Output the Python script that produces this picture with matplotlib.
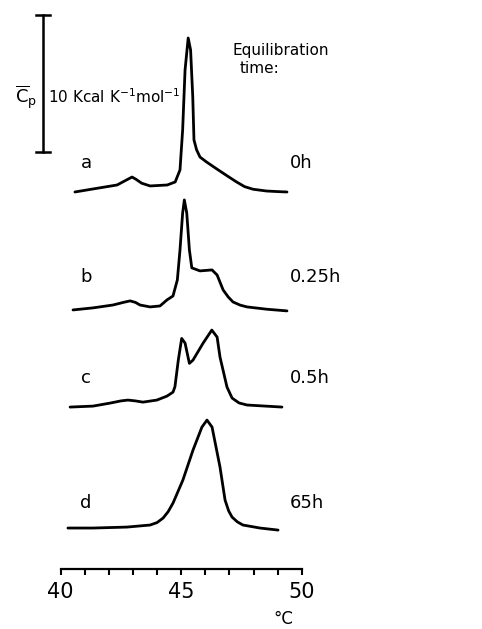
import matplotlib
matplotlib.use("Agg")
import matplotlib.pyplot as plt

# temperatures (deg C) and excess heat capacity (kcal K^-1 mol^-1)
temp_a = [40.59, 41.34, 42.34, 42.67, 42.96, 43.12, 43.36, 43.71, 44.42, 44.75, 44.95, 45.06,
          45.16, 45.29, 45.39, 45.48, 45.53, 45.64, 45.78, 46.05, 46.46, 46.87, 47.28, 47.63,
          47.98, 48.54, 49.10, 49.39]
cp_a = [0.0, 0.22, 0.51, 0.82, 1.09, 0.93, 0.64, 0.44, 0.51, 0.73, 1.61, 4.53,
        8.9, 11.24, 10.36, 6.93, 3.8, 3.07, 2.55, 2.19, 1.7, 1.22, 0.75, 0.39,
        0.2, 0.07, 0.02, 0.0]

temp_b = [40.51, 41.34, 42.17, 42.60, 42.88, 43.10, 43.29, 43.71, 44.12, 44.41, 44.66, 44.84,
          44.95, 45.06, 45.13, 45.23, 45.34, 45.44, 45.78, 46.28, 46.49, 46.74, 46.95, 47.15,
          47.45, 47.73, 48.56, 49.39]
cp_b = [0.0, 0.15, 0.36, 0.55, 0.66, 0.55, 0.36, 0.22, 0.29, 0.73, 1.02, 2.19,
        4.38, 7.08, 8.03, 7.08, 4.38, 3.07, 2.85, 2.92, 2.55, 1.46, 0.95, 0.58,
        0.35, 0.22, 0.05, -0.07]

temp_c = [40.39, 41.34, 42.05, 42.50, 42.79, 43.10, 43.41, 43.99, 44.41, 44.66, 44.74, 44.88,
          45.02, 45.16, 45.34, 45.49, 45.91, 46.27, 46.49, 46.61, 46.90, 47.11, 47.40, 47.73,
          49.18]
cp_c = [0.0, 0.07, 0.29, 0.45, 0.51, 0.45, 0.36, 0.51, 0.8, 1.09, 1.48, 3.43,
        5.01, 4.67, 3.19, 3.43, 4.67, 5.62, 5.11, 3.65, 1.46, 0.66, 0.3, 0.15,
        0.0]

temp_d = [40.30, 41.34, 42.75, 43.71, 44.00, 44.25, 44.46, 44.66, 45.07, 45.49, 45.86, 46.07,
          46.28, 46.61, 46.82, 46.97, 47.11, 47.33, 47.56, 48.27, 49.02]
cp_d = [0.0, 0.0, 0.07, 0.22, 0.4, 0.73, 1.2, 1.82, 3.5, 5.69, 7.37, 7.88,
        7.37, 4.45, 2.04, 1.25, 0.8, 0.45, 0.22, 0.0, -0.15]

labels = ['a', 'b', 'c', 'd']
times = ['0h', '0.25h', '0.5h', '65h']
offsets = [27.52, 18.91, 11.82, 2.99]   # vertical stacking of the traces
scale_bar = 10  # kcal K^-1 mol^-1

W, H = 482, 629
fig = plt.figure(figsize=(W / 100, H / 100), dpi=100)
fig.patch.set_facecolor('white')
ax = fig.add_axes([60.7 / W, (H - 569) / H, 241 / W, 569 / H])
ax.set_xlim(40, 50)
ax.set_ylim(0, 569 / 13.7)

traces = [(temp_a, cp_a), (temp_b, cp_b), (temp_c, cp_c), (temp_d, cp_d)]
for (t, cp), off in zip(traces, offsets):
    ax.plot(t, [v + off for v in cp], color='black', linewidth=2.0,
            solid_joinstyle='round', solid_capstyle='round', clip_on=False)

# scale bar
xb = 39.27
ybot = 30.44
ax.plot([xb, xb], [ybot, ybot + scale_bar], color='black', lw=1.8, clip_on=False)
for yy in (ybot, ybot + scale_bar):
    ax.plot([xb - 0.28, xb + 0.28], [yy, yy], color='black', lw=1.8, clip_on=False)

# axis
for s in ['left', 'top', 'right']:
    ax.spines[s].set_visible(False)
ax.spines['bottom'].set_linewidth(1.6)
ax.set_yticks([])
ax.set_xticks([40, 45, 50])
ax.set_xticks(range(40, 51), minor=True)
ax.tick_params(axis='x', which='both', direction='out', length=4.5, width=1.5)
ax.tick_params(axis='x', which='major', labelsize=15, pad=5)
ax.patch.set_alpha(0)

def ftext(x, y, s, **kw):
    fig.text(x / W, 1 - y / H, s, **kw)

ftext(15, 103, r'$\overline{\mathrm{C}}_{\mathrm{p}}$', fontsize=13, va='baseline')
ftext(48, 103, r'10 Kcal K$^{-1}$mol$^{-1}$', fontsize=11, va='baseline')
ftext(232, 55, 'Equilibration', fontsize=11, va='baseline')
ftext(240, 73, 'time:', fontsize=11, va='baseline')

lab_y = [168, 282, 383, 508]
for lab, tm, yy in zip(labels, times, lab_y):
    ftext(86, yy, lab, fontsize=13, va='baseline', ha='center')
    ftext(290, yy, tm, fontsize=13, va='baseline')

ftext(283, 628, '°C', fontsize=12, va='bottom', ha='center')

fig.savefig('out.png', dpi=100)
